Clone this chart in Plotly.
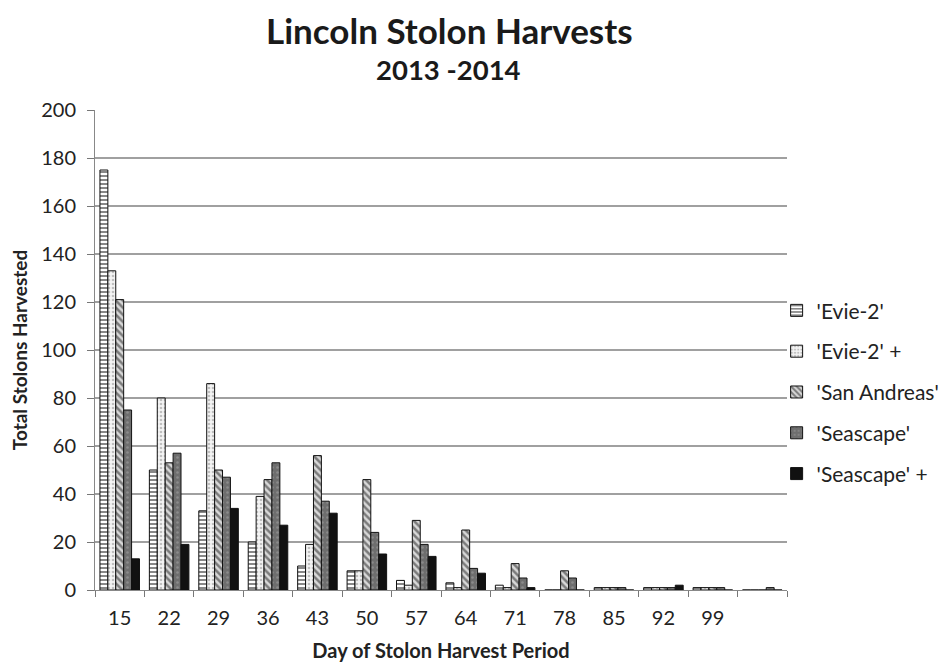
import plotly.graph_objects as go

categories = ["15", "22", "29", "36", "43", "50", "57", "64", "71", "78", "85", "92", "99", " "]
evie2 = [175, 50, 33, 20, 10, 8, 4, 3, 2, 0, 1, 1, 1, 0]
evie2_plus = [133, 80, 86, 39, 19, 8, 2, 1, 1, 0, 1, 1, 1, 0]
san_andreas = [121, 53, 50, 46, 56, 46, 29, 25, 11, 8, 1, 1, 1, 0]
seascape = [75, 57, 47, 53, 37, 24, 19, 9, 5, 5, 1, 1, 1, 1]
seascape_plus = [13, 19, 34, 27, 32, 15, 14, 7, 1, 0, 0, 2, 0, 0]

series = [
    ("'Evie-2'", evie2, dict(shape="-", fgcolor="#111111", bgcolor="white", size=4, solidity=0.5)),
    ("'Evie-2' +", evie2_plus, dict(shape=".", fgcolor="#8a8a8a", bgcolor="#f4f4f4", size=4, solidity=0.35)),
    ("'San Andreas'", san_andreas, dict(shape="\\", fgcolor="#1e1e1e", bgcolor="#d8d8d8", size=5, solidity=0.5)),
    ("'Seascape'", seascape, dict(shape=".", fgcolor="#a8a8a8", bgcolor="#6e6e6e", size=5, solidity=0.2)),
    ("'Seascape' +", seascape_plus, None),
]

fig = go.Figure()
for i, (name, vals, pat) in enumerate(series):
    if pat is None:
        marker = dict(color="#111111", line=dict(color="#111111", width=1))
    else:
        marker = dict(color=pat["bgcolor"], line=dict(color="#111111", width=1), pattern=pat)
    fig.add_trace(go.Bar(x=categories, y=vals, name=name, marker=marker, legendgroup="g%d" % i))

font = "Lato, 'Open Sans', sans-serif"
fig.update_layout(
    width=939, height=658,
    margin=dict(l=87, r=160, t=102, b=76, autoexpand=False),
    paper_bgcolor="white", plot_bgcolor="white",
    barmode="group", bargap=0.2, bargroupgap=0,
    font=dict(family=font, size=20, color="#222222"),
    showlegend=True,
    legend=dict(x=0.985, xanchor="left", y=0.412, yanchor="middle",
                font=dict(size=21, color="#222222"), tracegroupgap=10.5,
                bgcolor="rgba(0,0,0,0)"),
    annotations=[
        dict(text="<b>Lincoln Stolon Harvests</b>", x=0.513, y=1.0, xref="paper", yref="paper",
             yanchor="middle", yshift=80, showarrow=False, font=dict(size=35, family=font, color="#1a1a1a")),
        dict(text="<b>2013 -2014</b>", x=0.511, y=1.0, xref="paper", yref="paper",
             yanchor="middle", yshift=41, showarrow=False, font=dict(size=27.5, family=font, color="#1a1a1a")),
    ],
)
fig.update_xaxes(
    type="category", tickson="boundaries", ticks="outside", ticklen=6, tickcolor="#777777",
    showline=True, linecolor="#888888", linewidth=1, showgrid=False, automargin=False,
    tickfont=dict(size=20), ticklabelstandoff=10,
    title=dict(text="<b>Day of Stolon Harvest Period</b>", font=dict(size=20), standoff=15),
)
fig.update_yaxes(
    range=[0, 200], dtick=20, showgrid=True, gridcolor="#a0a0a0", gridwidth=2,
    showline=True, linecolor="#888888", linewidth=1, ticks="outside", ticklen=7, tickcolor="#777777",
    tickfont=dict(size=20), zeroline=False, ticklabelstandoff=7, automargin=False,
    title=dict(text="<b>Total Stolons Harvested</b>", font=dict(size=19), standoff=12),
)
fig.write_html("out.html")
